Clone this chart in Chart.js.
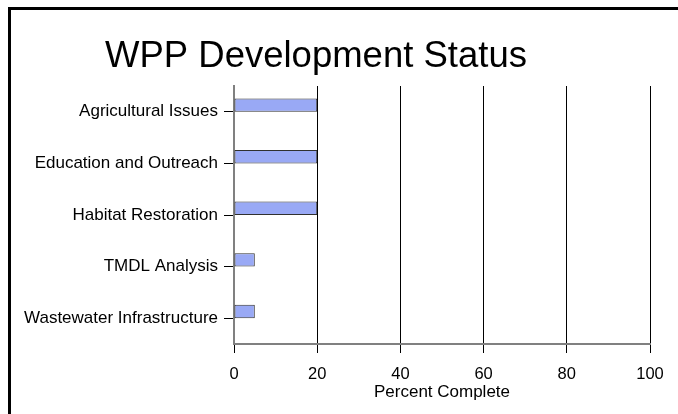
<!DOCTYPE html>
<html lang="en">
<head>
<meta charset="utf-8">
<title>WPP Development Status</title>
<script src="https://cdn.jsdelivr.net/npm/chart.js@4/dist/chart.umd.min.js"></script>
<style>
  html, body { margin: 0; padding: 0; background: #fff; }
  #wrap { position: relative; width: 678px; height: 414px; overflow: hidden; }
  #frame { position: absolute; left: 8px; top: 7px; width: 700px; height: 440px;
           border-left: 3px solid #000; border-top: 3px solid #000; box-sizing: border-box; }
  #wrap canvas { position: absolute; left: 0; top: 0; }
</style>
</head>
<body>
<div id="wrap">
  <div id="frame"></div>
  <canvas id="chart" width="678" height="414"></canvas>
</div>
<script>
// data
var categories = ["Agricultural Issues", "Education and Outreach", "Habitat Restoration", "TMDL Analysis", "Wastewater Infrastructure"];
var percentComplete = [20, 20, 20, 5, 5];
var series2 = [null, null, null, null, null];   // empty second series, keeps the bar in the upper half
var titleText = "WPP Development Status";
var axisTitle = "Percent Complete";

var FONT = "'Liberation Sans', Arial, sans-serif";

// title drawn where the original puts it (not centred)
var titlePlugin = {
  id: "sheetTitle",
  afterDraw: function(chart) {
    var ctx = chart.ctx;
    ctx.save();
    ctx.font = "36.5px " + FONT;
    ctx.fillStyle = "#000";
    ctx.textBaseline = "alphabetic";
    ctx.textAlign = "left";
    ctx.fillText(titleText, 105, 67);
    ctx.restore();
  }
};

new Chart(document.getElementById("chart"), {
  type: "bar",
  data: {
    labels: categories,
    datasets: [
      {
        label: "Percent Complete",
        data: percentComplete,
        backgroundColor: "#99A9F5",
        borderColor: "#303030",
        borderWidth: 1,
        borderSkipped: false,
        barPercentage: 1,
        categoryPercentage: 0.52
      },
      {
        label: "Series 2",
        data: series2,
        backgroundColor: "#993366",
        barPercentage: 1,
        categoryPercentage: 0.52
      }
    ]
  },
  options: {
    indexAxis: "y",
    responsive: false,
    animation: false,
    layout: { padding: { left: 0, top: 86, right: 28, bottom: 0 } },
    plugins: {
      legend: { display: false },
      tooltip: { enabled: false },
      title: { display: false }
    },
    scales: {
      x: {
        min: 0,
        max: 100,
        ticks: { stepSize: 20, color: "#000", padding: 12, font: { family: FONT, size: 16.5 } },
        grid: { color: "#000", lineWidth: 1, tickLength: 9 },
        border: { color: "#808080", width: 2 },
        title: { display: true, text: axisTitle, color: "#000", padding: { top: 0, bottom: 11 }, font: { family: FONT, size: 17 } },
        afterFit: function(scale) { scale.height = 70; }
      },
      y: {
        ticks: { color: "#000", padding: 6, font: { family: FONT, size: 17 } },
        grid: { display: true, drawOnChartArea: false, offset: false, color: "#000", tickLength: 10 },
        border: { color: "#808080", width: 2 },
        afterFit: function(scale) { scale.width = 234; }
      }
    }
  },
  plugins: [titlePlugin]
});
</script>
</body>
</html>
